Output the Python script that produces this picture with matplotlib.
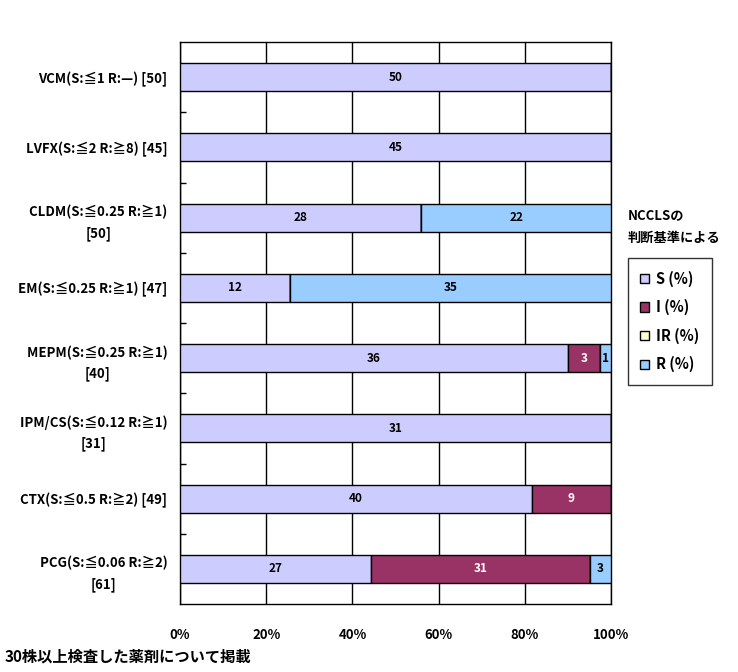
import matplotlib
matplotlib.use('Agg')
import matplotlib.pyplot as plt
import numpy as np

plt.rcParams['font.family'] = ['Noto Sans CJK JP', 'DejaVu Sans']
plt.rcParams['font.weight'] = 'bold'

# data (counts per category, top to bottom)
drugs = ["VCM(S:≦1 R:—) [50]",
         "LVFX(S:≦2 R:≧8) [45]",
         "CLDM(S:≦0.25 R:≧1)\n[50]",
         "EM(S:≦0.25 R:≧1) [47]",
         "MEPM(S:≦0.25 R:≧1)\n[40]",
         "IPM/CS(S:≦0.12 R:≧1)\n[31]",
         "CTX(S:≦0.5 R:≧2) [49]",
         "PCG(S:≦0.06 R:≧2)\n[61]"]
s_vals = [50, 45, 28, 12, 36, 31, 40, 27]
i_vals = [0, 0, 0, 0, 3, 0, 9, 31]
ir_vals = [0, 0, 0, 0, 0, 0, 0, 0]
r_vals = [0, 0, 22, 35, 1, 0, 0, 3]
series_names = ["S (%)", "I (%)", "IR (%)", "R (%)"]
colors = ["#CCCCFF", "#993366", "#FFFFCC", "#99CCFF"]
text_colors = ["black", "white", "black", "black"]

fig = plt.figure(figsize=(7.38, 6.72), dpi=100)
ax = fig.add_axes([180/738, 1 - 604/672, 431/738, 562/672])

data = np.array([s_vals, i_vals, ir_vals, r_vals], dtype=float)
totals = data.sum(axis=0)
pct = data / totals * 100
y = np.arange(len(drugs))

left = np.zeros(len(drugs))
handles = []
for k in range(len(series_names)):
    bars = ax.barh(y, pct[k], left=left, height=0.4, color=colors[k],
                   edgecolor='black', linewidth=1, label=series_names[k], zorder=3)
    handles.append(bars)
    for j in range(len(drugs)):
        if data[k, j] > 0:
            ax.text(left[j] + pct[k, j] / 2, y[j], f"{int(data[k, j])}",
                    ha='center', va='center', fontsize=8.5, fontweight='bold',
                    color=text_colors[k], zorder=4)
    left += pct[k]

ax.set_xlim(0, 100)
ax.set_ylim(len(drugs) - 0.5, -0.5)
ax.set_xticks([0, 20, 40, 60, 80, 100])
ax.set_xticklabels(["0%", "20%", "40%", "60%", "80%", "100%"], fontsize=9.5, fontweight='bold')
ax.tick_params(axis='x', length=0, pad=17)
ax.set_yticks(y)
ax.set_yticklabels(drugs, fontsize=9.5, fontweight='bold', linespacing=1.6)
for lbl in ax.get_yticklabels():
    lbl.set_multialignment('center')
ax.tick_params(axis='y', which='major', length=0, pad=9)
ax.set_yticks(np.arange(len(drugs) - 1) + 0.5, minor=True)
ax.tick_params(axis='y', which='minor', direction='in', length=4, width=1)
ax.grid(axis='x', color='black', linewidth=1, zorder=1)
for sp in ax.spines.values():
    sp.set_linewidth(1)

fig.text(628/738, 1 - 215/672, "NCCLSの", fontsize=9.5, fontweight='bold', va='center')
fig.text(628/738, 1 - 238/672, "判断基準による", fontsize=9.5, fontweight='bold', va='center')

leg = fig.legend(handles=handles, labels=series_names, loc='upper left',
                 bbox_to_anchor=(628/738, 1 - 258/672), frameon=True, fancybox=False,
                 edgecolor='black', fontsize=10.5, handlelength=0.6, handleheight=0.6,
                 handletextpad=0.5, labelspacing=0.85, borderpad=0.85, borderaxespad=0)
leg.get_frame().set_linewidth(1)
leg._legend_box.sep = 0

fig.text(5/738, 1 - 657/672, "30株以上検査した薬剤について掲載", fontsize=11, fontweight='bold', va='center')

fig.savefig("out.png", dpi=100)
